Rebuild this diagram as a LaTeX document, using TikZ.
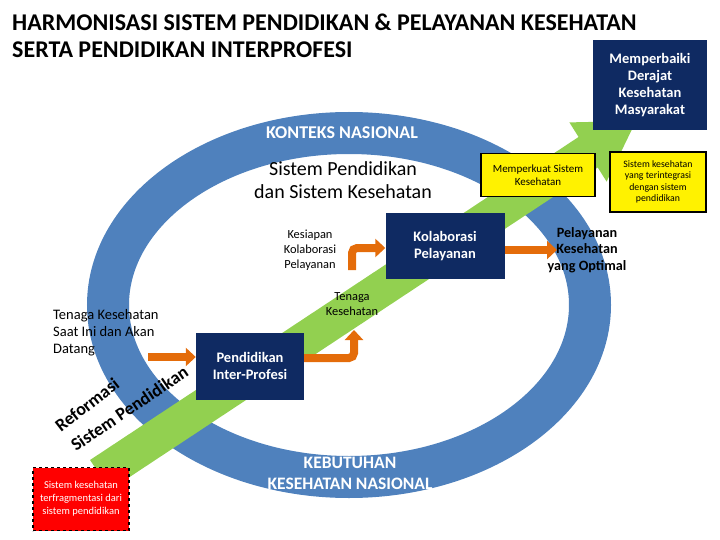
\documentclass[tikz,border=0pt]{standalone}
\usepackage{fontspec}
\setmainfont{Carlito}
\usetikzlibrary{arrows.meta}
\definecolor{ringblue}{HTML}{4F81BD}
\definecolor{navy}{HTML}{0F2A62}
\definecolor{lgreen}{HTML}{92D050}
\definecolor{orng}{HTML}{E46C0A}
\tikzset{
  navybox/.style={fill=navy,text=white,font=\bfseries\fontsize{14.5}{17}\selectfont,align=center,inner sep=0},
  yelbox/.style={fill=yellow,draw=black,line width=1.5pt,align=center,inner sep=0},
  oarrow/.style={orng,line width=8pt,-{Triangle[length=10pt,width=18pt]}},
  lbl/.style={align=center,font=\fontsize{12.4}{15}\selectfont},
  curvtxt/.style={font=\bfseries\fontsize{18}{20}\selectfont,anchor=base west,inner sep=0}
}
\begin{document}
\begin{tikzpicture}[x=1pt,y=-1pt]
\useasboundingbox (0,0) rectangle (720,540);
% ring
\draw[ringblue,line width=42pt] (349,305) ellipse [x radius=241,y radius=172];
% green arrow
\draw[lgreen,line width=36pt] (100,475) -- (590,151);
\fill[lgreen] (606.6,181.6) -- (569.4,122.4) -- (636,121) -- cycle;
% titles
\node[anchor=west,font=\bfseries\fontsize{24}{27}\selectfont,inner sep=0] (t1) at (12,22) {HARMONISASI SISTEM PENDIDIKAN \& PELAYANAN KESEHATAN};
\node[anchor=west,font=\bfseries\fontsize{24}{27}\selectfont,inner sep=0] (t2) at (12,50) {SERTA PENDIDIKAN INTERPROFESI};
\node[text=white,font=\bfseries\fontsize{18}{20}\selectfont] (kn) at (342,133) {KONTEKS NASIONAL};
\node[text=white,font=\bfseries\fontsize{17.5}{21}\selectfont,align=center] (kb) at (350,473) {KEBUTUHAN\\KESEHATAN NASIONAL};
\node[align=center,font=\fontsize{20}{23}\selectfont] (sp) at (343,180) {Sistem Pendidikan\\dan Sistem Kesehatan};
% boxes
\node[navybox,minimum width=114,minimum height=90] (mdk) at (650,85) {Memperbaiki\\Derajat\\Kesehatan\\Masyarakat};
\node[yelbox,minimum width=114,minimum height=43,font=\fontsize{11}{13}\selectfont] (mk) at (538,175) {Memperkuat Sistem\\Kesehatan};
\node[yelbox,minimum width=96,minimum height=60,font=\fontsize{9.8}{11.5}\selectfont] (sk) at (658,182) {Sistem kesehatan\\yang terintegrasi\\dengan sistem\\pendidikan};
\node[navybox,minimum width=119,minimum height=66] (kp) at (445,246) {Kolaborasi\\Pelayanan};
\node[navybox,minimum width=108,minimum height=67] (pip) at (250,366) {Pendidikan\\Inter-Profesi};
\node[fill=red,draw=black,dashed,line width=1.2pt,minimum width=96,minimum height=63,text=white,align=center,font=\fontsize{10.5}{13}\selectfont,inner sep=0] (rb) at (81,499) {Sistem kesehatan\\terfragmentasi dari\\sistem pendidikan};
% labels
\node[lbl] (kes) at (310,250) {Kesiapan\\Kolaborasi\\Pelayanan};
\node[lbl] (tk) at (352,304) {Tenaga\\Kesehatan};
\node[align=left,anchor=north west,font=\fontsize{14.5}{17}\selectfont,inner sep=0] (tks) at (53,309) {Tenaga Kesehatan\\Saat Ini dan Akan\\Datang};
\node[align=center,font=\bfseries\fontsize{14.2}{16.5}\selectfont] (pko) at (587,250) {Pelayanan\\Kesehatan\\yang Optimal};
\node[curvtxt,rotate=38] (ref) at (61,433) {Reformasi};
\node[curvtxt,rotate=34] (sis) at (76,452) {Sistem Pendidikan};
% orange arrows
\coordinate (a1) at (148,357);
\draw[oarrow] (a1) -- (pip.west |- a1);
\draw[oarrow,rounded corners=5pt] (pip.east |- 0,358) -- (354,358) -- (354,330);
\draw[oarrow,rounded corners=5pt] (352,270) -- (352,248) -- (kp.west |- 0,248);
\coordinate (a4) at (557,250);
\draw[oarrow] (kp.east |- 0,250) -- (a4);
\end{tikzpicture}
\end{document}
